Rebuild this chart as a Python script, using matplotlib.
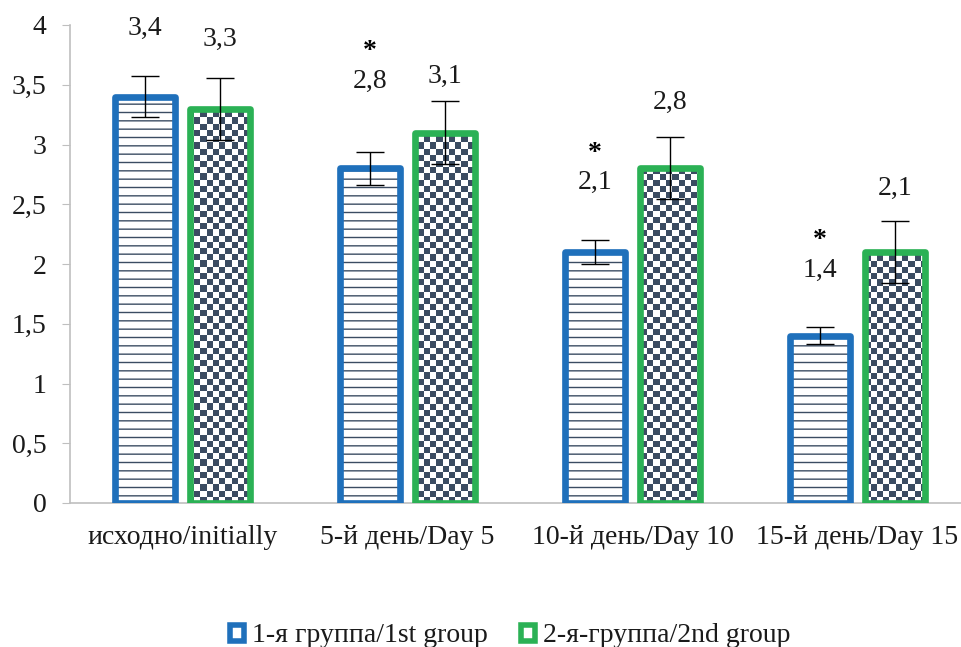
import numpy as np
import matplotlib.pyplot as plt
from matplotlib.colors import ListedColormap
from matplotlib.patches import Patch

plt.rcParams['font.family'] = ['Liberation Serif', 'DejaVu Serif']

categories = ['исходно/initially', '5-й день/Day 5', '10-й день/Day 10', '15-й день/Day 15']
group1 = [3.4, 2.8, 2.1, 1.4]
group2 = [3.3, 3.1, 2.8, 2.1]
err1 = [0.17, 0.14, 0.10, 0.07]
err2 = [0.26, 0.26, 0.26, 0.26]
significant = [False, True, True, True]  # group 1 vs group 2
legend_labels = ['1-я группа/1st group', '2-я-группа/2nd group']

blue = '#1f70bb'
green = '#2bb155'
dark = '#3b4c62'
axis_grey = '#bfbfbf'
fs = 20

fig = plt.figure(figsize=(9.61, 6.47), dpi=100)
ax = fig.add_axes([70 / 961, 1 - 503 / 647, 900 / 961, 478 / 647])

x = np.arange(len(categories))
off = 0.168
w = 0.268

# group 1: white bars with horizontal stripes, blue frame
ax.bar(x - off, group1, w, color='white', edgecolor=dark, linewidth=0, hatch='--', zorder=2)
ax.bar(x - off, group1, w, fill=False, edgecolor=blue, linewidth=4.8, joinstyle='round', zorder=3)

# group 2: checkerboard fill clipped to each bar, green frame
bg = ax.bar(x + off, group2, w, color='white', linewidth=0, zorder=2)
ny, nx = int(478 / 6.2), int(900 / 6.2)
board = (np.add.outer(np.arange(ny), np.arange(nx)) % 2).astype(float)
for rect in bg:
    im = ax.imshow(board, cmap=ListedColormap(['white', dark]), extent=(-0.5, 3.5, 0, 4),
                   aspect='auto', interpolation='nearest', zorder=2.5)
    im.set_clip_path(rect)
ax.bar(x + off, group2, w, fill=False, edgecolor=green, linewidth=4.8, joinstyle='round', zorder=3)
ax.set_xlim(-0.5, 3.5)
ax.set_ylim(0, 4)

ax.errorbar(x - off, group1, yerr=err1, fmt='none', ecolor='black', elinewidth=1, capsize=10,
            capthick=1, zorder=4)
ax.errorbar(x + off, group2, yerr=err2, fmt='none', ecolor='black', elinewidth=1, capsize=10,
            capthick=1, zorder=4)

# value labels, with an asterisk over significant group 1 values
lift1 = [0.57, 0.73, 0.58, 0.55]
lift2 = [0.58, 0.47, 0.55, 0.53]
for i in range(len(categories)):
    ax.text(x[i] - off, group1[i] + lift1[i], f'{group1[i]:.1f}'.replace('.', ','),
            ha='center', va='center', fontsize=fs, color='#1a1a1a')
    ax.text(x[i] + off, group2[i] + lift2[i], f'{group2[i]:.1f}'.replace('.', ','),
            ha='center', va='center', fontsize=fs, color='#1a1a1a')
    if significant[i]:
        ax.text(x[i] - off, group1[i] + lift1[i] + 0.245, '*', ha='center', va='center',
                fontsize=20, fontweight='bold', clip_on=False)

ax.set_xticks(x)
ax.set_xticklabels(categories, fontsize=fs, color='#1a1a1a')
ax.tick_params(axis='x', length=0, pad=16)
yt = np.arange(0, 4.01, 0.5)
ax.set_yticks(yt)
ax.set_yticklabels([f'{v:g}'.replace('.', ',') for v in yt], fontsize=fs, color='#1a1a1a')
ax.tick_params(axis='y', length=6, color=axis_grey, pad=11)

for s in ['top', 'right']:
    ax.spines[s].set_visible(False)
for s in ['left', 'bottom']:
    ax.spines[s].set_color(axis_grey)
    ax.spines[s].set_linewidth(1.2)

handles = [Patch(facecolor='white', edgecolor=blue, linewidth=4),
           Patch(facecolor='white', edgecolor=green, linewidth=4)]
fig.legend(handles, legend_labels, loc='center', bbox_to_anchor=(0.531, 1 - 636 / 647),
           ncol=2, frameon=False, fontsize=fs, handlelength=0.5, handleheight=0.5,
           handletextpad=0.3, columnspacing=1.2, labelcolor='#1a1a1a')

fig.savefig('out.png', dpi=100)
